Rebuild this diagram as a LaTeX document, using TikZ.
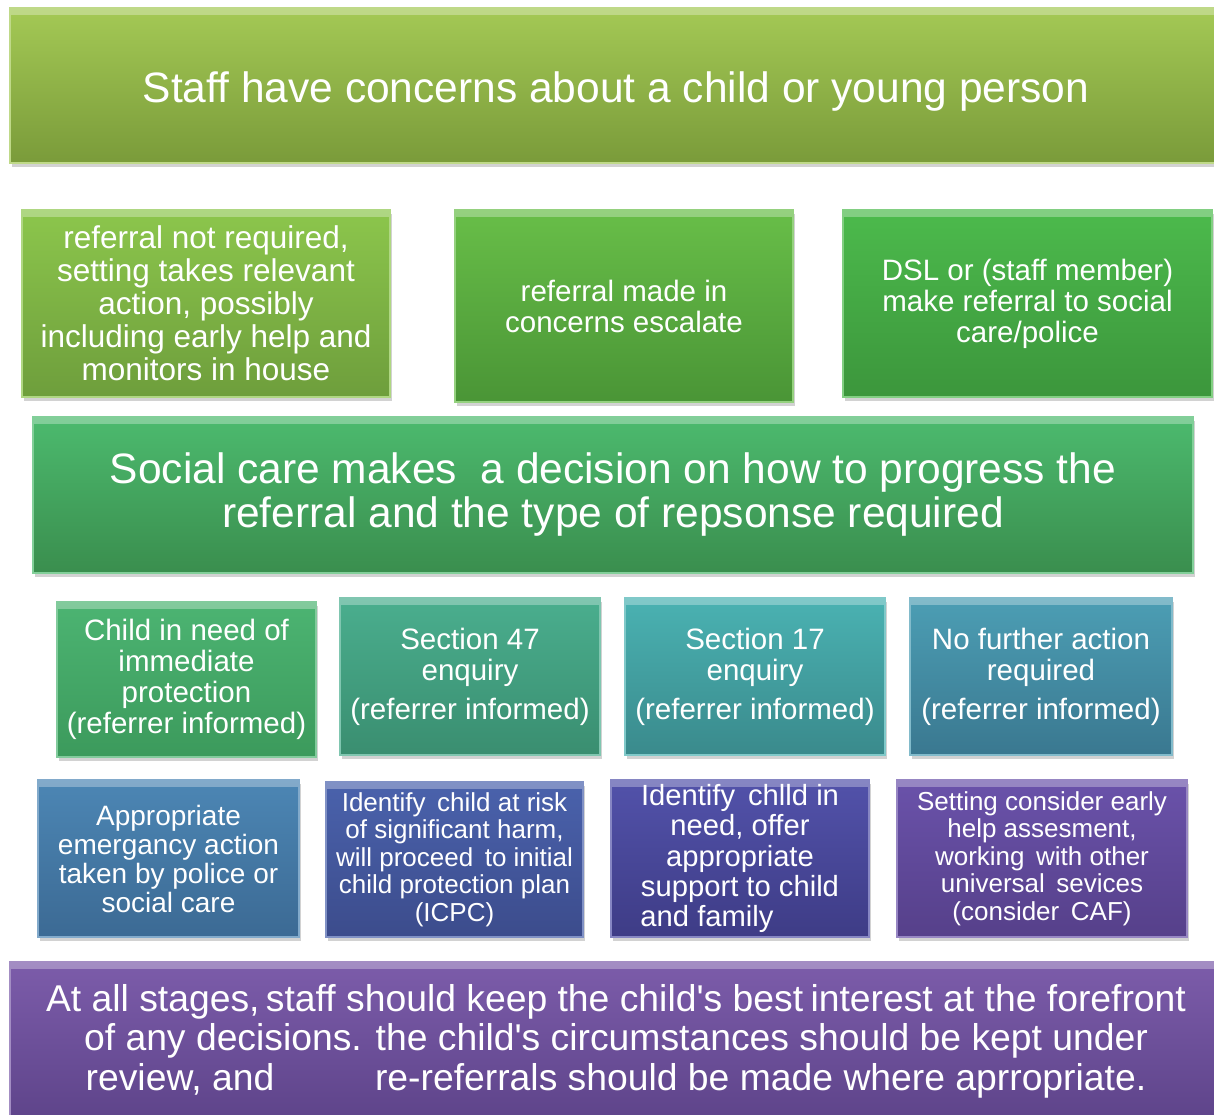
\documentclass[tikz,border=0pt]{standalone}
\usepackage{xcolor}
\usepackage{fontspec}
\setmainfont{Liberation Sans}
\usepackage{tikz}
\usetikzlibrary{shadows}

\definecolor{limeTop}{HTML}{A4C955}\definecolor{limeBot}{HTML}{7A9B3A}
\definecolor{aTop}{HTML}{8CC64C}\definecolor{aBot}{HTML}{6E9E3C}
\definecolor{bTop}{HTML}{68BE48}\definecolor{bBot}{HTML}{4A9536}
\definecolor{cTop}{HTML}{4CBA4C}\definecolor{cBot}{HTML}{3C963C}
\definecolor{scTop}{HTML}{4CBA6E}\definecolor{scBot}{HTML}{3A8E4E}
\definecolor{dTop}{HTML}{4CB472}\definecolor{dBot}{HTML}{3C9A5C}
\definecolor{eTop}{HTML}{4AAE8E}\definecolor{eBot}{HTML}{3A8E70}
\definecolor{fTop}{HTML}{4AB2B2}\definecolor{fBot}{HTML}{3A8A8C}
\definecolor{gTop}{HTML}{4C9EB4}\definecolor{gBot}{HTML}{3A7890}
\definecolor{hTop}{HTML}{4C86B4}\definecolor{hBot}{HTML}{3C6A94}
\definecolor{iTop}{HTML}{4A62AC}\definecolor{iBot}{HTML}{3C4C8C}
\definecolor{jTop}{HTML}{5252AA}\definecolor{jBot}{HTML}{3E3C86}
\definecolor{kTop}{HTML}{6A52AA}\definecolor{kBot}{HTML}{56408A}
\definecolor{pTop}{HTML}{7C5CAA}\definecolor{pBot}{HTML}{5E448A}

\begin{document}
\begin{tikzpicture}[
		x=1pt, y=-1pt,
		stepbox/.style 2 args={rectangle, top color=#1, bottom color=#2, draw=#1!70!white, line width=1.2pt,
			text=white, align=center, inner sep=0pt,
			drop shadow={opacity=0.35, shadow xshift=2pt, shadow yshift=-4pt},
			path picture={\fill[white, opacity=0.3] (path picture bounding box.north west) rectangle ([yshift=-7pt]path picture bounding box.north east);}},
		lower/.style={execute at begin node={\rule{0pt}{\dimexpr0.74em+#1pt+#1pt\relax}}},
		huge/.style={font=\fontsize{42.5}{44}\selectfont},
		mid/.style={font=\fontsize{29.5}{31}\selectfont},
		small/.style={font=\fontsize{26}{27.5}\selectfont}
		]
		\useasboundingbox (0,0) rectangle (1214,1115);
		\fill[white] (0,0) rectangle (1214,1115);
		
		% top
		\node[stepbox={limeTop}{limeBot}, huge, lower=6, minimum width=1212pt, minimum height=155pt] (concern) at (616,85.5) {Staff have concerns about a child or young person};
		
		% first outcomes
		\node[stepbox={aTop}{aBot}, font=\fontsize{31.5}{33}\selectfont, minimum width=368pt, minimum height=187pt] (inhouse) at (206,303.5) {referral not required,\\ setting takes relevant\\ action, possibly\\ including early help and\\ monitors in house};
		\node[stepbox={bTop}{bBot}, mid, minimum width=338pt, minimum height=192pt] (escalate) at (624,306) {referral made in\\ concerns escalate};
		\node[stepbox={cTop}{cBot}, mid, lower=2.5, minimum width=369pt, minimum height=187pt] (dsl) at (1027.5,303.5) {DSL or (staff member)\\ make referral to social\\ care/police};
		
		% decision
		\node[stepbox={scTop}{scBot}, huge, lower=4.5, minimum width=1160pt, minimum height=156pt] (decision) at (613,495) {Social care makes \ a decision on how to progress the\\ referral and the type of repsonse required};
		
		% responses
		\node[stepbox={dTop}{dBot}, mid, lower=4, minimum width=259pt, minimum height=155pt] (immediate) at (186.5,679.5) {Child in need of\\ immediate\\ protection\\ (referrer informed)};
		\node[stepbox={eTop}{eBot}, mid, lower=3, minimum width=260pt, minimum height=157pt] (sec47) at (470,676.5) {Section 47\\ enquiry\\[8pt] (referrer informed)};
		\node[stepbox={fTop}{fBot}, mid, lower=3, minimum width=260pt, minimum height=157pt] (sec17) at (755,676.5) {Section 17\\ enquiry\\[8pt] (referrer informed)};
		\node[stepbox={gTop}{gBot}, mid, lower=3, minimum width=262pt, minimum height=157pt] (nfa) at (1041,676.5) {No further action\\ required\\[8pt] (referrer informed)};
		
		% actions
		\node[stepbox={hTop}{hBot}, font=\fontsize{28}{29}\selectfont, lower=2.5, minimum width=261pt, minimum height=157pt] (emergency) at (168.5,858.5) {Appropriate\\ emergancy action\\ taken by police or\\ social care};
		\node[stepbox={iTop}{iBot}, small, lower=3, minimum width=257pt, minimum height=155pt] (icpc) at (454.5,859.5) {Identify \,child at risk\\ of significant harm,\\ will proceed \,to initial\\ child protection plan\\ (ICPC)};
		\node[stepbox={jTop}{jBot}, font=\fontsize{29.2}{30.3}\selectfont, lower=4, minimum width=258pt, minimum height=157pt] (support) at (740,858.5) {Identify \,chlld in\\ need, offer\\ appropriate\\ support to child\\ and family\hspace*{66pt}};
		\node[stepbox={kTop}{kBot}, small, lower=3, minimum width=290pt, minimum height=157pt] (earlyhelp) at (1042,858.5) {Setting consider early\\ help assesment,\\ working \,with other\\ universal \,sevices\\ (consider \,CAF)};
		
		% bottom
		\node[stepbox={pTop}{pBot}, font=\fontsize{37.3}{39.5}\selectfont, lower=3, minimum width=1212pt, minimum height=158pt] (stages) at (616,1041) {At all stages,\hspace{-4pt} staff should keep the child\textquotesingle s best\hspace{-3pt} interest at the forefront\\ of any decisions. the child\textquotesingle s circumstances should be kept under\\ review, and \hspace{80pt} re-referrals should be made where aprropriate.};
	\end{tikzpicture}
\end{document}
